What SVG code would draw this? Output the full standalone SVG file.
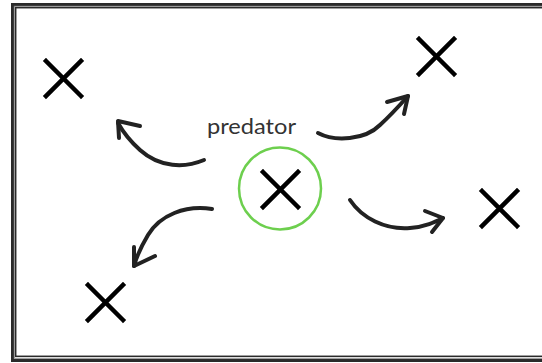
<svg xmlns="http://www.w3.org/2000/svg" width="542" height="363" viewBox="0 0 542 363">
<defs>
<style>
.x{stroke:#000;stroke-width:4.5;stroke-linecap:square;fill:none}
.arr{stroke:#222;stroke-width:4;stroke-linecap:round;stroke-linejoin:round;fill:none}
.lbl{font-family:Lato,"Open Sans",sans-serif;font-size:21px;fill:#333}
</style>
</defs>
<rect width="542" height="363" fill="#fff"/>
<g id="frame" fill="none">
<rect x="12.5" y="4.5" width="560" height="356" stroke="#2a2a2a" stroke-width="3"/>
<rect x="14.3" y="6.3" width="560" height="352" stroke="#8a8a8a" stroke-width="1"/>
<rect x="15.7" y="7.7" width="560" height="348.6" stroke="#2a2a2a" stroke-width="1.5"/>
</g>
<g id="predator">
<circle cx="280" cy="188.5" r="41" fill="none" stroke="#6dcf4e" stroke-width="2.5"/>
<path class="x" d="M263,172 L298,207 M298,172 L263,207"/>
</g>
<g id="prey-top-left"><path class="x" d="M46,61 L81,96 M81,61 L46,96"/></g>
<g id="prey-top-right"><path class="x" d="M419,39 L454,74 M454,39 L419,74"/></g>
<g id="prey-right"><path class="x" d="M482,191 L517,226 M517,191 L482,226"/></g>
<g id="prey-bottom-left"><path class="x" d="M88,285 L123,320 M123,285 L88,320"/></g>
<g id="label"><text class="lbl" x="207" y="134" textLength="89" lengthAdjust="spacingAndGlyphs">predator</text></g>
<g id="connectors">
<path class="arr" d="M204,160 C185,168 160,168 140,150 C130,141 123,132 118,123"/>
<path class="arr" d="M140,126 L118,121 L119,138"/>
<path class="arr" d="M318,133 C335,142 365,140 380,125 C392,114 400,105 408,96"/>
<path class="arr" d="M387,102 L408,96 L404,114"/>
<path class="arr" d="M212,209 C185,205 160,215 148,235 C142,245 137,255 134,266"/>
<path class="arr" d="M134,247 L134,266 L155,256"/>
<path class="arr" d="M350,200 C362,218 385,230 410,228 C425,227 435,222 443,218"/>
<path class="arr" d="M425,211 L443,218 L432,232"/>
</g>
</svg>
